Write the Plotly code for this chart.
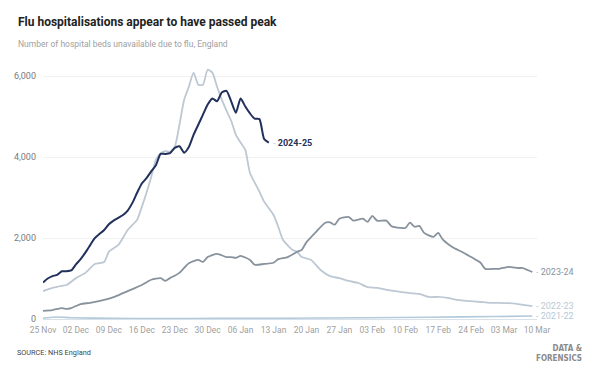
import pandas as pd
import plotly.graph_objects as go

# ---- data ----
dates_2425 = pd.date_range("2024-11-25", "2025-01-12", freq="D")
vals_2425 = [900, 1000, 1060, 1090, 1180, 1180, 1200, 1350, 1480, 1640,
             1820, 2000, 2100, 2200, 2340, 2430, 2500, 2570, 2680, 2870,
             3120, 3350, 3480, 3650, 3800, 4080, 4080, 4100, 4230, 4270,
             4110, 4250, 4550, 4800, 5050, 5300, 5450, 5380, 5600, 5640,
             5380, 5100, 5450, 5250, 5080, 4950, 4940, 4450, 4360]

dates_2324 = ["2024-11-25", "2024-11-27", "2024-11-29", "2024-11-30", "2024-12-01",
              "2024-12-03", "2024-12-05", "2024-12-08", "2024-12-10", "2024-12-12",
              "2024-12-14", "2024-12-16", "2024-12-18", "2024-12-20", "2024-12-21",
              "2024-12-22", "2024-12-24", "2024-12-26", "2024-12-28", "2024-12-29",
              "2024-12-30", "2025-01-01", "2025-01-03", "2025-01-04", "2025-01-05",
              "2025-01-06", "2025-01-08", "2025-01-09", "2025-01-11", "2025-01-13",
              "2025-01-14", "2025-01-16", "2025-01-18", "2025-01-19", "2025-01-20",
              "2025-01-22", "2025-01-24", "2025-01-25", "2025-01-26", "2025-01-27",
              "2025-01-29", "2025-01-30", "2025-02-01", "2025-02-02", "2025-02-03",
              "2025-02-04", "2025-02-06", "2025-02-07", "2025-02-09", "2025-02-10",
              "2025-02-11", "2025-02-12", "2025-02-13", "2025-02-14", "2025-02-16",
              "2025-02-17", "2025-02-18", "2025-02-20", "2025-02-22", "2025-02-24",
              "2025-02-26", "2025-02-27", "2025-03-01", "2025-03-02", "2025-03-04",
              "2025-03-06", "2025-03-07", "2025-03-09"]
vals_2324 = [200, 220, 270, 250, 270,
             370, 400, 470, 540, 640,
             740, 840, 970, 1010, 940,
             1010, 1140, 1380, 1460, 1410,
             1530, 1610, 1530, 1530, 1510,
             1560, 1460, 1340, 1360, 1390,
             1480, 1530, 1660, 1710, 1900,
             2150, 2380, 2390, 2330, 2480,
             2520, 2430, 2480, 2400, 2550,
             2430, 2430, 2300, 2250, 2250,
             2380, 2280, 2300, 2130, 2030,
             2130, 1960, 1780, 1660, 1530,
             1390, 1240, 1240, 1240, 1290,
             1260, 1260, 1160]

dates_2223 = ["2024-11-25", "2024-11-27", "2024-11-29", "2024-11-30", "2024-12-02",
              "2024-12-04", "2024-12-06", "2024-12-08", "2024-12-09", "2024-12-11",
              "2024-12-13", "2024-12-15", "2024-12-16", "2024-12-17", "2024-12-18",
              "2024-12-19", "2024-12-20", "2024-12-21", "2024-12-22", "2024-12-23",
              "2024-12-24", "2024-12-25", "2024-12-26", "2024-12-27", "2024-12-28",
              "2024-12-29", "2024-12-30", "2024-12-31", "2025-01-01", "2025-01-02",
              "2025-01-03", "2025-01-04", "2025-01-05", "2025-01-06", "2025-01-07",
              "2025-01-08", "2025-01-10", "2025-01-11", "2025-01-13", "2025-01-14",
              "2025-01-15", "2025-01-17", "2025-01-18", "2025-01-19", "2025-01-21",
              "2025-01-23", "2025-01-25", "2025-01-27", "2025-01-29", "2025-01-31",
              "2025-02-02", "2025-02-04", "2025-02-06", "2025-02-09", "2025-02-11",
              "2025-02-13", "2025-02-15", "2025-02-17", "2025-02-19", "2025-02-21",
              "2025-02-23", "2025-02-26", "2025-02-28", "2025-03-02", "2025-03-04",
              "2025-03-06", "2025-03-09"]
vals_2223 = [690, 770, 820, 840, 1010,
             1140, 1360, 1410, 1660, 1830,
             2200, 2450, 2770, 3120, 3510,
             3940, 4100, 4150, 4130, 4250,
             4800, 5420, 5740, 6090, 5790,
             5790, 6160, 6090, 5740, 5420,
             5150, 4900, 4550, 4360, 4180,
             3610, 3150, 2900, 2570, 2280,
             1960, 1710, 1660, 1530, 1460,
             1210, 1060, 1010, 940, 890,
             790, 770, 720, 670, 640,
             620, 545, 545, 520, 470,
             450, 420, 400, 400, 390,
             370, 320]

dates_2122 = ["2024-11-25", "2024-11-28", "2024-12-01", "2024-12-10", "2024-12-20",
              "2025-01-01", "2025-01-15", "2025-02-01", "2025-02-15", "2025-03-01",
              "2025-03-09"]
vals_2122 = [20, 50, 30, 15, 10, 15, 20, 30, 45, 60, 75]

season_labels = ["2024-25", "2023-24", "2022-23", "2021-22"]
y_ticks = [0, 2000, 4000, 6000]

# ---- styles ----
C_2425 = "#22305c"
C_2324 = "#87929d"
C_2223 = "#bdc8d3"
C_2122 = "#b3cadb"
FONT = "Roboto"

# page has an 8px body margin; the figure is sized/offset to compensate
OFF = 8
W, H = 584, 366
L, T = 43 - OFF, 56 - OFF
PLOT_R, PLOT_B = 537 - OFF, 319 - OFF
R, B = W - PLOT_R, H - PLOT_B
PW, PH = PLOT_R - L, PLOT_B - T

fig = go.Figure()
series = [
    (dates_2122, vals_2122, C_2122, 1.6),
    (dates_2223, vals_2223, C_2223, 1.8),
    (dates_2324, vals_2324, C_2324, 1.8),
    (list(dates_2425), vals_2425, C_2425, 2.0),
]
for d, v, c, w in series:
    fig.add_trace(go.Scatter(x=d, y=v, mode="lines",
                             line=dict(color=c, width=w, shape="spline", smoothing=0.6),
                             hoverinfo="skip", showlegend=False))

# end labels
end_specs = [
    (list(dates_2425)[-1], vals_2425[-1], season_labels[0], C_2425, True),
    (dates_2324[-1], vals_2324[-1], season_labels[1], C_2324, False),
    (dates_2223[-1], vals_2223[-1], season_labels[2], C_2223, False),
    (dates_2122[-1], vals_2122[-1], season_labels[3], C_2122, False),
]
for x, y, t, c, b in end_specs:
    txt = f"<b>{t}</b>" if b else t
    fig.add_annotation(x=x, y=y, text="<span style='color:#c8c8c8'>- </span>" + txt,
                       showarrow=False, xanchor="left", yanchor="middle", xshift=2,
                       font=dict(family=FONT, size=9, color=c))

fig.update_layout(
    width=W, height=H,
    margin=dict(l=L, r=R, t=T, b=B, autoexpand=False),
    paper_bgcolor="white", plot_bgcolor="white",
    font=dict(family=FONT),
    showlegend=False,
)
fig.update_xaxes(
    type="date", automargin=False,
    range=["2024-11-25", "2025-03-10"],
    tick0="2024-11-25", dtick=7 * 24 * 3600 * 1000,
    tickformat="%d %b",
    tickfont=dict(family=FONT, size=8.5, color="#a0a0a0"),
    showgrid=False, showline=False, zeroline=False, ticks="",
    ticklabelstandoff=4,
)
fig.update_yaxes(
    range=[0, 6500], automargin=False,
    tickvals=y_ticks, ticktext=[f"{v:,}" for v in y_ticks],
    tickfont=dict(family=FONT, size=9, color="#7a7a7a"),
    showgrid=True, gridcolor="#f1f1f1", gridwidth=1,
    zeroline=True, zerolinecolor="#d9e2ea", zerolinewidth=1,
    showline=False, ticks="", ticklabelstandoff=6,
)

def px(x):
    return (x - OFF - L) / PW

def py(y):
    return (PLOT_B - (y - OFF)) / PH

# titles and footer
fig.add_annotation(xref="paper", yref="paper", x=px(16), y=py(22),
                   text="<b>Flu hospitalisations appear to have passed peak</b>",
                   showarrow=False, xanchor="left", yanchor="middle",
                   font=dict(family=FONT, size=12, color="#222222"))
fig.add_annotation(xref="paper", yref="paper", x=px(16), y=py(44),
                   text="Number of hospital beds unavailable due to flu, England",
                   showarrow=False, xanchor="left", yanchor="middle",
                   font=dict(family=FONT, size=8.5, color="#a0a0a0"))
fig.add_annotation(xref="paper", yref="paper", x=px(15), y=py(352),
                   text="SOURCE: NHS England",
                   showarrow=False, xanchor="left", yanchor="middle",
                   font=dict(family=FONT, size=7.3, color="#444444"))
fig.add_annotation(xref="paper", yref="paper", x=px(584), y=py(353),
                   text="<b>DATA &amp;<br>FORENSICS</b>", align="right",
                   showarrow=False, xanchor="right", yanchor="middle",
                   font=dict(family="Liberation Sans Narrow, DejaVu Sans Condensed", size=8, color="#8a8a8a"))

fig.write_html("out.html")
